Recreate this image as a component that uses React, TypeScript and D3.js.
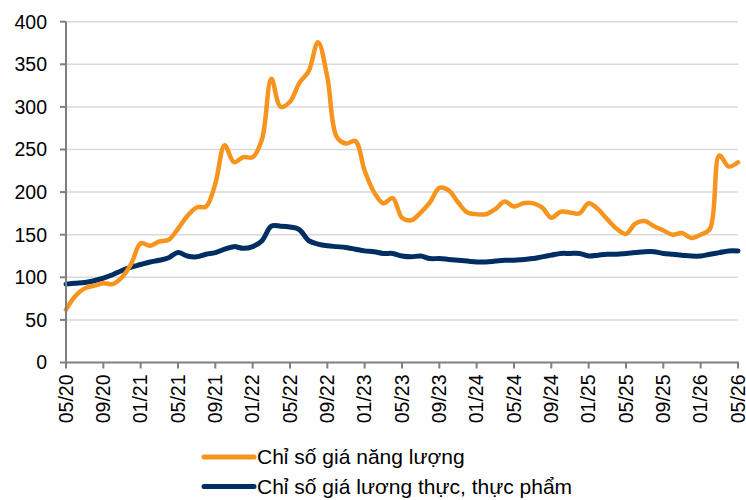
import React from 'react';
import * as d3 from 'd3';

// monthly, 05/2020 .. 05/2026
const energy = [
  62, 78, 87, 90, 93, 92, 100, 116, 140, 137, 142, 144, 157, 172, 182, 183,
  210, 255, 235, 241, 241, 262, 333, 300, 306, 328, 342, 376, 335, 265, 257, 260,
  225, 200, 187, 193, 170, 167, 176, 188, 205, 202, 188, 176, 174, 174, 180, 189,
  183, 187, 187, 182, 170, 177, 176, 175, 187, 180, 168, 157, 151, 163, 166, 160,
  155, 150, 152, 146, 150, 157, 243, 230, 235,
];
const food = [
  92, 93, 94, 96, 99, 103, 108, 112, 115, 118, 120, 123, 129, 125, 124, 127,
  129, 133, 136, 134, 136, 143, 160, 160, 159, 156, 143, 139, 137, 136, 135, 133,
  131, 130, 128, 128, 125, 124, 125, 122, 122, 121, 120, 119, 118, 118, 119, 120,
  120, 121, 122, 124, 126, 128, 128, 128, 125, 126, 127, 127, 128, 129, 130, 130,
  128, 127, 126, 125, 125, 127, 129, 131, 131,
];
const xLabels = [
  '05/20', '09/20', '01/21', '05/21', '09/21', '01/22', '05/22', '09/22', '01/23', '05/23',
  '09/23', '01/24', '05/24', '09/24', '01/25', '05/25', '09/25', '01/26', '05/26',
];
const yTicks = [0, 50, 100, 150, 200, 250, 300, 350, 400];
const seriesNames = ['Chỉ số giá năng lượng', 'Chỉ số giá lương thực, thực phẩm'];
const colors = ['#F7941D', '#002D62'];

const font = 'Liberation Sans, Arial, sans-serif';

export default function App() {
  const x = d3.scaleLinear().domain([0, energy.length - 1]).range([66, 738]);
  const y = d3.scaleLinear().domain([0, 400]).range([362.5, 21.7]);

  const line = d3.line<number>()
    .x((_, i) => x(i))
    .y(d => y(d))
    .curve(d3.curveCatmullRom.alpha(0.5));

  return (
    <svg width={746} height={500} style={{ position: 'absolute', left: 0, top: 0, background: '#fff' }}>
      {yTicks.slice(1).map(t => (
        <line key={t} x1={x(0)} x2={x(72)} y1={y(t)} y2={y(t)} stroke="#d9d9d9" strokeWidth={1.5} />
      ))}
      {[food, energy].map((s, k) => (
        <path key={k} d={line(s) || ''} fill="none" stroke={k === 0 ? colors[1] : colors[0]}
          strokeWidth={k === 0 ? 5 : 4.5} strokeLinejoin="round" strokeLinecap="round" />
      ))}
      <line x1={x(0)} x2={x(0)} y1={y(400)} y2={y(0)} stroke="#7f7f7f" strokeWidth={2} />
      <line x1={x(0)} x2={x(72) + 1} y1={y(0)} y2={y(0)} stroke="#7f7f7f" strokeWidth={2} />
      {yTicks.map(t => (
        <g key={t}>
          <line x1={x(0) - 6} x2={x(0)} y1={y(t)} y2={y(t)} stroke="#7f7f7f" strokeWidth={2} />
          <text x={47} y={y(t)} dy="0.35em" textAnchor="end" fontFamily={font} fontSize={19.5} fill="#000">{t}</text>
        </g>
      ))}
      {xLabels.map((l, i) => (
        <g key={l}>
          <line x1={x(i * 4)} x2={x(i * 4)} y1={y(0)} y2={y(0) + 6} stroke="#7f7f7f" strokeWidth={2} />
          <text transform={`translate(${x(i * 4)},${y(0) + 12}) rotate(-90)`} dy="0.35em" textAnchor="end"
            fontFamily={font} fontSize={19.5} fill="#000">{l}</text>
        </g>
      ))}
      {seriesNames.map((n, k) => (
        <g key={n} transform={`translate(0,${457 + k * 29.5})`}>
          <line x1={204} x2={254} y1={0} y2={0} stroke={colors[k]} strokeWidth={5} strokeLinecap="round" />
          <text x={257} y={0} dy="0.35em" fontFamily={font} fontSize={21} fill="#000">{n}</text>
        </g>
      ))}
    </svg>
  );
}
